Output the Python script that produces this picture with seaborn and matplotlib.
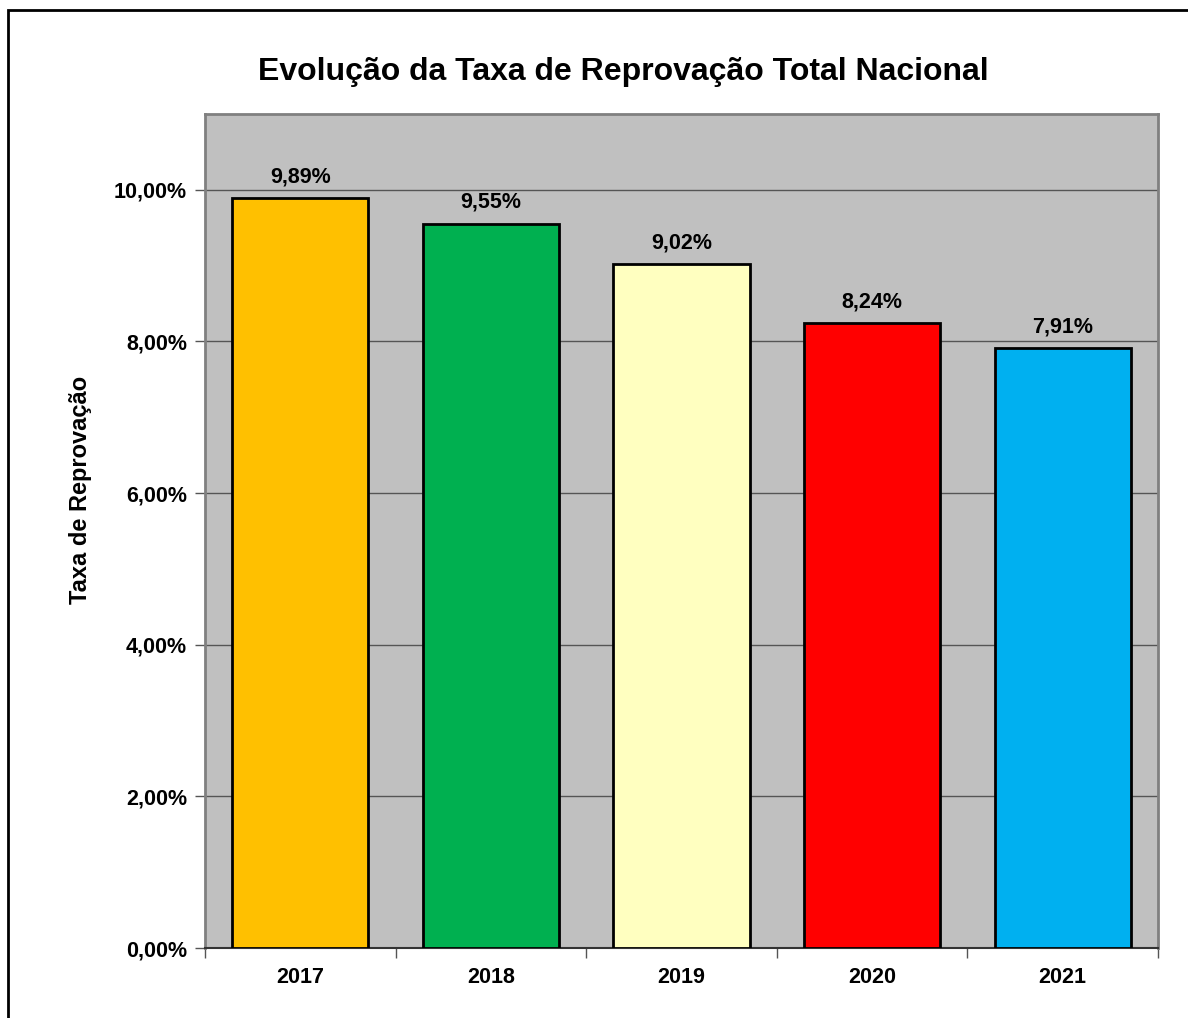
import matplotlib
matplotlib.use("Agg")
import matplotlib.pyplot as plt
import seaborn as sns
import pandas as pd
from matplotlib.ticker import FuncFormatter, FixedLocator
from matplotlib.patches import Rectangle

years = ["2017", "2018", "2019", "2020", "2021"]
rates = [9.89, 9.55, 9.02, 8.24, 7.91]
colors = ["#FFC000", "#00B050", "#FFFFC0", "#FF0000", "#00B0F0"]
title = "Evolução da Taxa de Reprovação Total Nacional"
ylabel = "Taxa de Reprovação"

sns.set_theme(style="white")
plt.rcParams['font.family'] = ['Liberation Sans', 'DejaVu Sans']
plt.rcParams['text.color'] = 'black'
plt.rcParams['xtick.color'] = 'black'
plt.rcParams['ytick.color'] = 'black'
plt.rcParams['axes.labelcolor'] = 'black'

df = pd.DataFrame({"ano": years, "taxa": rates})

fig = plt.figure(figsize=(11.88, 10.18), dpi=100)
ax = fig.add_axes([205/1188, 1-948/1018, (1158-205)/1188, (948-114)/1018])
ax.set_facecolor("#C0C0C0")

sns.barplot(data=df, x="ano", y="taxa", hue="ano", palette=colors, legend=False,
            saturation=1, width=0.714, edgecolor="black", linewidth=2, ax=ax, zorder=3)

ax.set_ylim(0, 11)
ax.set_xlim(-0.5, 4.5)
ax.yaxis.set_major_locator(FixedLocator([0, 2, 4, 6, 8, 10]))
ax.yaxis.set_major_formatter(FuncFormatter(lambda v, p: f"{v:.2f}".replace(".", ",") + "%"))
ax.grid(axis="y", color="#555555", linewidth=1, zorder=1)
ax.set_axisbelow(True)

for c in ax.containers:
    ax.bar_label(c, labels=[f"{v:.2f}".replace(".", ",") + "%" for v in c.datavalues],
                 padding=8, fontsize=15.5, fontweight="bold", color="black")

ax.tick_params(axis="y", which="major", direction="out", length=7, width=1, color="#555555",
               labelsize=15.5, pad=6, left=True, labelcolor="black")
ax.tick_params(axis="x", which="major", length=0, labelsize=15.5, pad=14, labelcolor="black")
ax.set_xticks([-0.5, 0.5, 1.5, 2.5, 3.5, 4.5], minor=True)
ax.tick_params(axis="x", which="minor", direction="out", length=7, width=1, color="#555555", bottom=True)
for lab in ax.get_xticklabels() + ax.get_yticklabels():
    lab.set_fontweight("bold")

ax.set_xlabel("")
ax.set_ylabel("")
fig.text(80/1188, 1-490/1018, ylabel, rotation=90, ha="center", va="center",
         fontsize=17, fontweight="bold", color="black")

for s in ["left", "top", "right"]:
    ax.spines[s].set_color("#808080")
    ax.spines[s].set_linewidth(2)
    ax.spines[s].set_visible(True)
ax.spines["bottom"].set_color("#333333")
ax.spines["bottom"].set_linewidth(1.5)

fig.text(623/1188, 1-72/1018, title, ha="center", va="center", fontsize=23,
         fontweight="bold", color="black")

fig.patches.append(Rectangle((8/1188, -0.1), 1.2, 1 - 10/1018 + 0.1, transform=fig.transFigure,
                             fill=False, edgecolor="black", linewidth=2))

fig.savefig("out.png", dpi=100, facecolor="white")
